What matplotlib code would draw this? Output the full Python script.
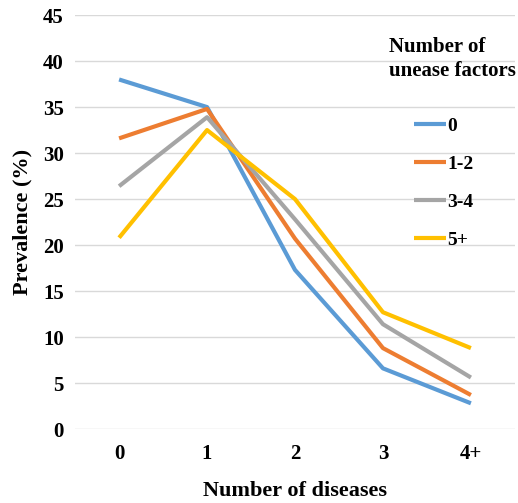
import matplotlib.pyplot as plt

categories = ["0", "1", "2", "3", "4+"]
series_names = ["0", "1-2", "3-4", "5+"]
prev_0 = [38.0, 35.0, 17.3, 6.6, 2.8]
prev_12 = [31.6, 34.8, 20.7, 8.8, 3.7]
prev_34 = [26.4, 33.9, 22.8, 11.4, 5.6]
prev_5 = [20.8, 32.5, 25.0, 12.7, 8.8]
colors = ["#5B9BD5", "#ED7D31", "#A5A5A5", "#FFC000"]

plt.rcParams["font.family"] = "Liberation Serif"
plt.rcParams["font.weight"] = "bold"

fig = plt.figure(figsize=(5.18, 5.03), dpi=100)
ax = fig.add_axes([0.145, 0.147, 0.849, 0.823])

x = range(len(categories))
lines = []
for vals, c in zip([prev_0, prev_12, prev_34, prev_5], colors):
    ln, = ax.plot(x, vals, color=c, linewidth=3, solid_capstyle="butt")
    lines.append(ln)

ax.set_xlim(-0.5, len(categories) - 0.5)
ax.set_ylim(0, 45)
ax.set_yticks(range(0, 46, 5))
ax.set_xticks(list(x))
ax.set_xticklabels(categories)
ax.grid(axis="y", color="#D9D9D9", linewidth=1)
ax.set_axisbelow(True)
for s in ax.spines.values():
    s.set_visible(False)
ax.tick_params(length=0, labelsize=15, pad=8)
ax.tick_params(axis="x", pad=11)
for lab in ax.get_xticklabels() + ax.get_yticklabels():
    lab.set_fontweight("bold")

ax.set_xlabel("Number of diseases", fontsize=16, fontweight="bold", labelpad=12)
ax.set_ylabel("Prevalence (%)", fontsize=16, fontweight="bold", labelpad=8)

fig.text(0.751, 0.926, "Number of\nunease factors", fontsize=15, fontweight="bold",
         va="top", ha="left", linespacing=1.25)
leg = ax.legend(lines, series_names, loc="upper left", bbox_to_anchor=(0.73, 0.795),
                frameon=False, handlelength=1.65, handletextpad=0.1,
                labelspacing=1.05, prop={"weight": "bold", "size": 14})

plt.savefig("out.png", dpi=100)
